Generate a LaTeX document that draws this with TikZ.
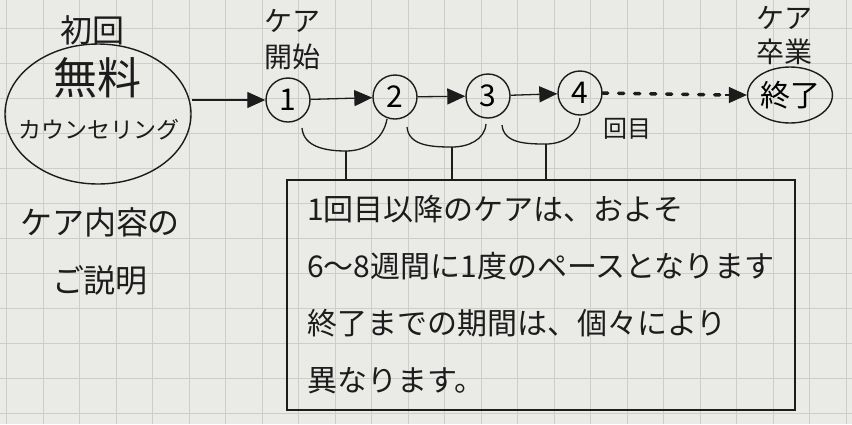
\documentclass[tikz,border=0pt]{standalone}
\usepackage{fontspec}
\setmainfont{Noto Sans CJK JP}
\usetikzlibrary{shapes.geometric,arrows.meta}

\definecolor{paper}{HTML}{EAEAE7}
\definecolor{gridline}{HTML}{CDCDCA}
\definecolor{ink}{HTML}{1C1C1C}

\newcommand\jsize[2]{\fontsize{#1}{#2}\selectfont}

\tikzset{
    stage/.style={circle, draw=ink, line width=1.4pt, minimum size=44pt, inner sep=0pt, font=\jsize{30}{30}},
    arr/.style={draw=ink, line width=1.3pt, -{Triangle[length=18pt,width=16pt]}},
    note/.style={text=ink, inner sep=0pt, align=center},
    brace/.style={draw=ink, line width=1.3pt}
}

\begin{document}
\begin{tikzpicture}[x=1pt, y=-1pt]
    % paper and grid
    \fill[paper] (0,0) rectangle (852,424);
    \useasboundingbox (0,0) rectangle (852,424);
    \foreach \x in {0,...,23}
        \draw[gridline, line width=0.6pt] ({6.5+36.5*\x},0) -- ({6.5+36.5*\x},424);
    \foreach \y in {1,...,12}
        \draw[gridline, line width=0.6pt] (0,{-7+35*\y}) -- (852,{-7+35*\y});

    % first free counseling
    \node[ellipse, draw=ink, line width=1.4pt, minimum width=186pt, minimum height=140pt] (cons) at (98,114) {};
    \node[note, font=\jsize{32}{32}] (first) at (92,30) {初回};
    \node[note, font=\jsize{44}{44}] (free) at (97,78) {無料};
    \node[note, font=\jsize{23}{23}] (counsel) at (99,130) {カウンセリング};
    \node[note, font=\jsize{32}{58}] (intro) at (100,251) {ケア内容の\\ご説明};

    % care stages
    \node[stage] (c1) at (288,100) {1};
    \node[stage] (c2) at (395,97) {2};
    \node[stage] (c3) at (488,96) {3};
    \node[stage] (c4) at (580,93) {4};
    \node[ellipse, draw=ink, line width=1.4pt, minimum width=74pt, minimum height=56pt, inner sep=0pt, font=\jsize{30}{30}] (fin) at (790,95) {終了};

    \node[note, font=\jsize{28}{36}] (start) at (292,40) {ケア\\開始};
    \node[note, font=\jsize{28}{34}] (grad) at (784,36) {ケア\\卒業};
    \node[note, font=\jsize{24}{24}] (times) at (627,129) {回目};

    \draw[arr] (c1 -| cons.east) -- (c1.west);
    \draw[arr] (c1) -- (c2);
    \draw[arr] (c2) -- (c3);
    \draw[arr] (c3) -- (c4);
    \draw[draw=ink, line width=3.5pt, line cap=round, dash pattern=on 5pt off 11pt] (c4.east) -- ([xshift=-20pt]fin.west);
    \draw[arr] ([xshift=-22pt]fin.west) -- (fin.west);

    % explanation box
    \node[draw=ink, line width=1.3pt, minimum width=508pt, minimum height=230pt, inner sep=0pt, align=left, text=ink, font=\jsize{30}{57}] (box) at (541,295)
        {1回目以降のケアは、およそ\\6～8週間に1度のペースとなります\\終了までの期間は、個々により\\異なります。};

    % braces between the stages
    \coordinate (b1) at (346,151);
    \coordinate (b2) at (452,147);
    \coordinate (b3) at (546,144);
    \draw[brace] (302,128) to[out=-85,in=180] (b1) to[out=0,in=-100] (387,119);
    \draw[brace] (407,127) to[out=-85,in=180] (b2) to[out=0,in=-95] (486,124);
    \draw[brace] (502,125) to[out=-85,in=180] (b3) to[out=0,in=-95] (580,118);
    \draw[brace] (b1) -- (b1 |- box.north);
    \draw[brace] (b2) -- (b2 |- box.north);
    \draw[brace] (b3) -- (b3 |- box.north);
\end{tikzpicture}
\end{document}
